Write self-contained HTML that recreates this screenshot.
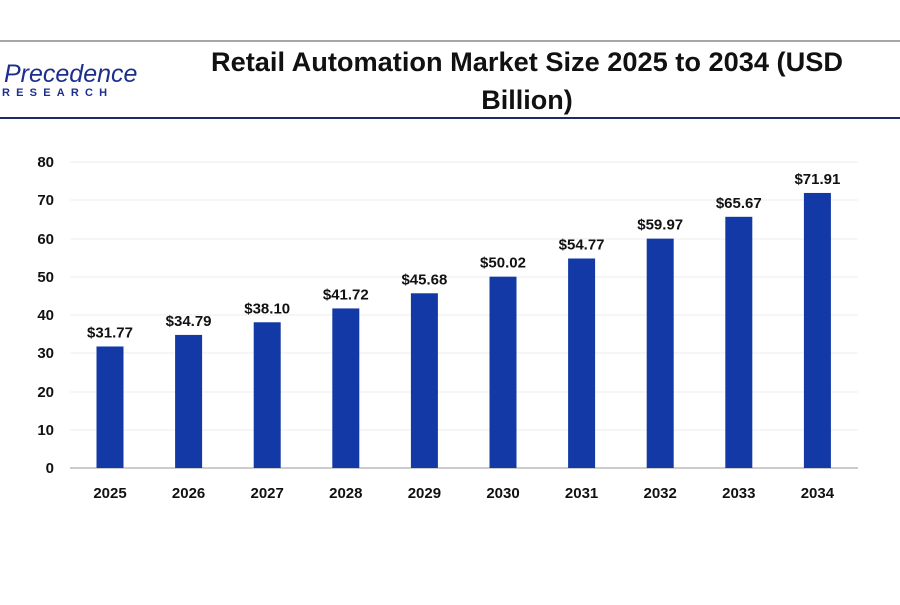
<!DOCTYPE html>
<html><head><meta charset="utf-8"><style>
body{margin:0;background:#fff;width:900px;height:600px;overflow:hidden;font-family:"Liberation Sans",sans-serif}
</style></head><body>
<svg width="900" height="600" xmlns="http://www.w3.org/2000/svg" font-family="Liberation Sans, sans-serif">
<line x1="0" y1="41" x2="900" y2="41" stroke="#888" stroke-width="1.5"/>
<line x1="0" y1="118" x2="900" y2="118" stroke="#1c2a6b" stroke-width="2"/>
<text x="4" y="82" font-size="25" fill="#1d2f8c" font-style="italic">Precedence</text>
<text x="2" y="96" font-size="11" font-weight="bold" fill="#1d2f8c" letter-spacing="6.2">RESEARCH</text>
<text x="527" y="71" text-anchor="middle" font-size="27" font-weight="bold" fill="#111" textLength="632" lengthAdjust="spacingAndGlyphs">Retail Automation Market Size 2025 to 2034 (USD</text>
<text x="527" y="109" text-anchor="middle" font-size="27" font-weight="bold" fill="#111">Billion)</text>
<g stroke="#eee" stroke-width="1">
<line x1="70" y1="162" x2="858" y2="162"/><line x1="70" y1="200" x2="858" y2="200"/>
<line x1="70" y1="239" x2="858" y2="239"/><line x1="70" y1="277" x2="858" y2="277"/>
<line x1="70" y1="315" x2="858" y2="315"/><line x1="70" y1="353" x2="858" y2="353"/>
<line x1="70" y1="392" x2="858" y2="392"/><line x1="70" y1="430" x2="858" y2="430"/>
</g>
<line x1="70" y1="468" x2="858" y2="468" stroke="#bbb" stroke-width="1.5"/>
<g font-size="15" font-weight="bold" fill="#111" text-anchor="end">
<text x="54" y="167">80</text><text x="54" y="205">70</text><text x="54" y="244">60</text>
<text x="54" y="282">50</text><text x="54" y="320">40</text><text x="54" y="358">30</text>
<text x="54" y="397">20</text><text x="54" y="435">10</text><text x="54" y="473">0</text>
</g>
<g fill="#1339a6" id="bars"></g>
<g id="lbl" font-size="15" font-weight="bold" fill="#111" text-anchor="middle"></g>
<script>
var v=[31.77,34.79,38.10,41.72,45.68,50.02,54.77,59.97,65.67,71.91];
var b=document.getElementById('bars'),l=document.getElementById('lbl'),ns="http://www.w3.org/2000/svg";
v.forEach(function(d,i){var cx=110+i*78.6,h=d*3.825;
var r=document.createElementNS(ns,'rect');r.setAttribute('x',cx-13.5);r.setAttribute('y',468-h);r.setAttribute('width',27);r.setAttribute('height',h);b.appendChild(r);
var t=document.createElementNS(ns,'text');t.setAttribute('x',cx);t.setAttribute('y',468-h-9);t.textContent='$'+d.toFixed(2);l.appendChild(t);
var y=document.createElementNS(ns,'text');y.setAttribute('x',cx);y.setAttribute('y',498);y.textContent=2025+i;l.appendChild(y);});
</script>
</svg>
</body></html>
